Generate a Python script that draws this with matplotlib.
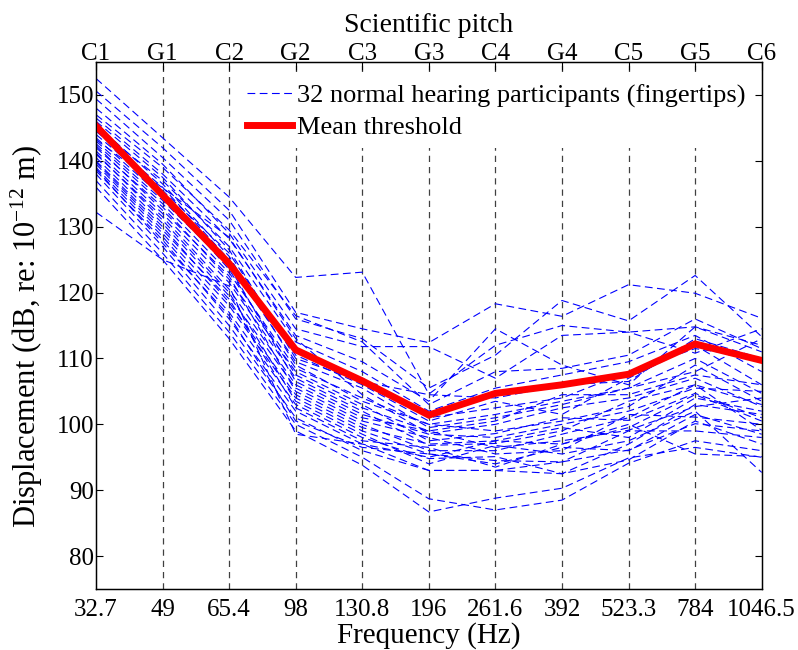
import matplotlib
matplotlib.use("Agg")
import matplotlib.pyplot as plt
import numpy as np

plt.rcParams['font.family'] = ['Liberation Serif', 'DejaVu Serif']
plt.rcParams['mathtext.fontset'] = 'custom'
plt.rcParams['mathtext.rm'] = 'Liberation Serif'
plt.rcParams['mathtext.it'] = 'Liberation Serif:italic'
plt.rcParams['mathtext.default'] = 'regular'

freq_labels = ["32.7", "49", "65.4", "98", "130.8", "196", "261.6", "392", "523.3", "784", "1046.5"]
pitch_labels = ["C1", "G1", "C2", "G2", "C3", "G3", "C4", "G4", "C5", "G5", "C6"]

mean_threshold = [145.3, 134.8, 124.4, 111.3, 106.6, 101.4, 104.7, 106.0, 107.6, 112.2, 109.7]

participants = [
    [152.5, 143.5, 134.5, 122.3, 123.1, 104.6, 112.0, 115.0, 114.0, 114.8, 112.0],
    [150.6, 142.0, 132.5, 117.0, 114.5, 112.4, 118.3, 116.4, 121.2, 119.9, 116.1],
    [149.4, 140.5, 131.0, 116.0, 113.0, 105.5, 110.5, 118.8, 115.7, 122.6, 113.3],
    [148.0, 139.5, 129.0, 114.5, 111.8, 111.8, 107.0, 113.5, 114.0, 110.8, 114.5],
    [146.5, 138.0, 128.2, 113.5, 109.5, 103.5, 114.5, 109.0, 106.0, 114.8, 111.0],
    [145.0, 137.0, 127.0, 112.5, 108.0, 102.0, 105.5, 107.5, 109.5, 113.5, 108.0],
    [144.5, 136.0, 125.0, 111.0, 107.0, 101.0, 102.5, 104.0, 108.0, 111.5, 110.0],
    [144.0, 135.5, 126.0, 110.5, 106.0, 100.5, 103.5, 101.5, 107.0, 112.0, 106.0],
    [143.5, 134.5, 124.5, 109.5, 105.5, 99.5, 101.0, 103.0, 105.5, 110.0, 104.7],
    [143.2, 135.9, 128.4, 113.0, 104.5, 98.6, 100.0, 102.5, 104.0, 107.0, 102.7],
    [142.6, 133.5, 123.0, 108.5, 104.0, 100.0, 99.0, 100.5, 102.7, 109.0, 103.5],
    [142.0, 133.0, 122.0, 108.0, 103.0, 97.5, 98.6, 101.0, 100.6, 104.7, 101.0],
    [141.5, 132.0, 121.5, 107.0, 102.0, 96.8, 97.1, 99.0, 103.5, 106.0, 99.1],
    [141.0, 131.5, 120.5, 106.0, 101.0, 99.0, 96.5, 97.5, 99.1, 102.7, 104.0],
    [140.5, 130.5, 119.5, 105.5, 100.5, 98.0, 95.5, 96.0, 101.5, 101.1, 100.0],
    [140.0, 130.0, 118.5, 104.5, 99.5, 97.0, 97.5, 99.5, 98.0, 104.0, 102.0],
    [139.5, 129.0, 118.0, 104.0, 99.0, 95.5, 94.5, 94.3, 96.1, 100.1, 99.0],
    [139.0, 128.5, 117.0, 103.0, 98.0, 94.8, 95.1, 92.5, 97.0, 103.0, 101.5],
    [138.5, 128.0, 116.0, 102.0, 97.0, 93.0, 93.0, 94.3, 99.0, 99.0, 98.0],
    [138.0, 127.0, 115.0, 101.0, 96.0, 93.0, 93.0, 92.5, 94.6, 100.5, 97.0],
    [137.0, 126.0, 114.0, 100.0, 95.0, 88.7, 87.0, 88.5, 94.1, 97.5, 96.0],
    [136.0, 125.0, 113.0, 99.0, 93.8, 86.7, 88.8, 90.3, 94.9, 96.5, 95.0],
    [132.2, 125.0, 121.0, 98.5, 97.0, 95.0, 97.5, 97.0, 100.0, 95.5, 95.1],
    [146.0, 137.5, 126.5, 110.0, 106.5, 104.5, 104.0, 106.0, 106.5, 113.0, 110.0],
    [147.0, 139.0, 129.5, 116.5, 112.5, 103.0, 108.0, 108.5, 110.5, 116.0, 111.5],
    [145.5, 136.5, 125.5, 109.0, 103.5, 100.0, 101.5, 103.5, 105.5, 108.0, 113.0],
    [144.8, 135.0, 123.5, 107.5, 102.5, 99.0, 100.5, 104.5, 104.5, 107.5, 106.0],
    [143.0, 134.0, 124.0, 106.5, 101.5, 98.5, 98.0, 100.0, 102.0, 105.5, 105.0],
    [142.3, 132.5, 122.5, 105.0, 100.0, 96.0, 96.0, 98.5, 101.0, 106.0, 103.0],
    [141.2, 131.0, 120.0, 103.5, 98.5, 94.0, 96.8, 95.5, 97.5, 102.0, 92.7],
    [139.8, 129.5, 119.0, 102.5, 97.5, 96.5, 93.5, 97.0, 99.5, 104.5, 100.5],
    [138.8, 127.5, 116.5, 100.5, 96.5, 95.5, 94.0, 96.5, 96.0, 101.5, 98.5],
]

y_ticks = [80, 90, 100, 110, 120, 130, 140, 150]

fig = plt.figure(figsize=(7.98, 6.5), dpi=100)
ax = fig.add_axes([0.1203, 0.0938, 0.9545 - 0.1203, 0.9046 - 0.0938])

x = np.arange(len(freq_labels))

for xi in x[1:-1]:
    ax.axvline(xi, color='0.25', linestyle=(0, (5, 4)), linewidth=0.9, zorder=1)

for i, vals in enumerate(participants):
    ax.plot(x, vals, color=(0, 0, 1), linestyle=(0, (7, 4)), linewidth=0.8, zorder=2,
            label='32 normal hearing participants (fingertips)' if i == 0 else None)

ax.plot(x, mean_threshold, color=(1, 0, 0), linewidth=5, zorder=3, label='Mean threshold',
        solid_joinstyle='miter')

ax.set_xlim(0, len(freq_labels) - 1)
ax.set_ylim(75, 155)
ax.set_xticks(x)
ax.set_xticklabels(freq_labels)
ax.set_yticks(y_ticks)
ax.tick_params(axis='both', direction='in', labelsize=18, length=5, width=0.8,
               right=True, top=False, colors='black', pad=1.5)
ax.tick_params(axis='x', length=0, pad=7)
ax.set_xlabel('Frequency (Hz)', fontsize=21, labelpad=1)
ax.set_ylabel('Displacement (dB, re: 10$^{-12}$ m)', fontsize=22, labelpad=8)
ax.yaxis.label.set_y(0.48)
for s in ax.spines.values():
    s.set_linewidth(1.0)

ax2 = ax.twiny()
ax2.set_xlim(ax.get_xlim())
ax2.set_xticks(x)
ax2.set_xticklabels(pitch_labels)
ax2.tick_params(axis='x', direction='in', labelsize=18, length=6, width=0.8, pad=-2.5)
ax2.set_xlabel('Scientific pitch', fontsize=20, labelpad=8)

leg = ax.legend(loc='upper right', bbox_to_anchor=(1.0, 1.0 - 6.0 / 527.0),
                fontsize=19, frameon=True, fancybox=False,
                handlelength=1.7, handletextpad=0.2, borderaxespad=0.25,
                labelspacing=0.3, borderpad=0.35)
leg.get_frame().set_edgecolor('none')
leg.get_frame().set_facecolor('white')
leg.get_frame().set_alpha(1.0)
leg.set_zorder(5)

fig.savefig('out.png', dpi=100)
